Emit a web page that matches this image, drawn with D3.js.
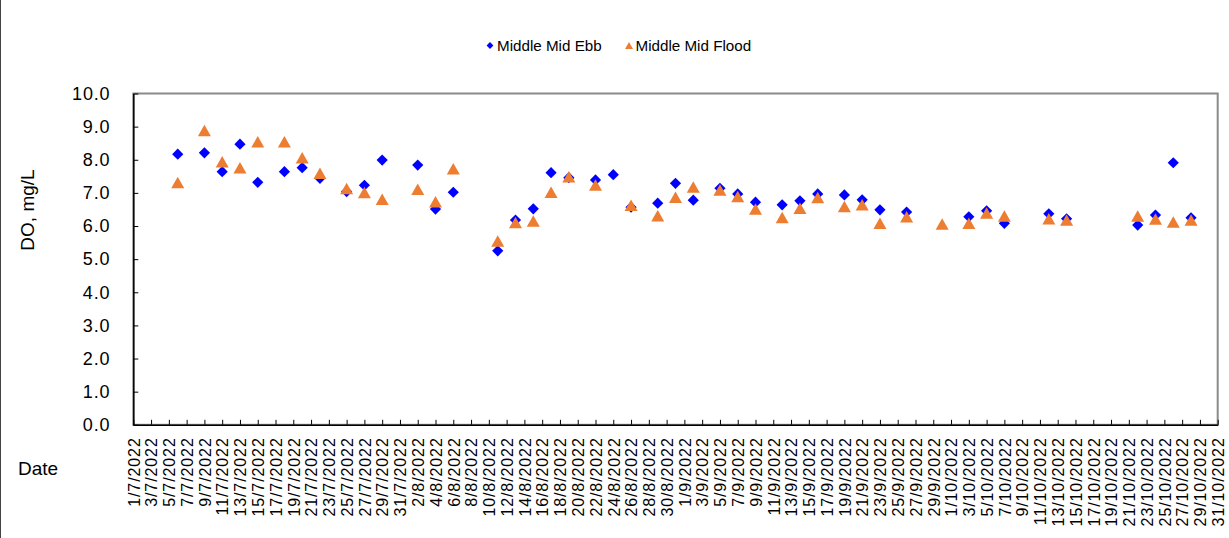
<!DOCTYPE html>
<html>
<head>
<meta charset="utf-8">
<script src="https://cdn.jsdelivr.net/npm/d3@7"></script>
<style>
  html, body { margin: 0; padding: 0; background: #fff; }
  svg { display: block; font-family: "Liberation Sans", Arial, Helvetica, sans-serif; }
</style>
</head>
<body>
<svg id="chart" width="1229" height="538"></svg>
<script>
// Sampling dates (d/m/yyyy)
const sampleDates = [
  "6/7/2022","9/7/2022","11/7/2022","13/7/2022","15/7/2022","18/7/2022","20/7/2022","22/7/2022",
  "25/7/2022","27/7/2022","29/7/2022","2/8/2022","4/8/2022","6/8/2022","11/8/2022","13/8/2022",
  "15/8/2022","17/8/2022","19/8/2022","22/8/2022","24/8/2022","26/8/2022","29/8/2022","31/8/2022",
  "2/9/2022","5/9/2022","7/9/2022","9/9/2022","12/9/2022","14/9/2022","16/9/2022","19/9/2022",
  "21/9/2022","23/9/2022","26/9/2022","30/9/2022","3/10/2022","5/10/2022","7/10/2022","12/10/2022",
  "14/10/2022","22/10/2022","24/10/2022","26/10/2022","28/10/2022"
];

// Dissolved oxygen, mg/L (null = no sample)
const middleMidEbb = [
  8.17, 8.21, 7.64, 8.47, 7.32, 7.64, 7.76, 7.44,
  7.04, 7.23, 7.99, 7.84, 6.51, 7.02, 5.25, 6.18,
  6.52, 7.61, 7.46, 7.39, 7.55, 6.57, 6.69, 7.29,
  6.78, 7.14, 6.97, 6.72, 6.64, 6.76, 6.97, 6.94,
  6.79, 6.49, 6.42, null, 6.28, 6.46, 6.08, 6.37,
  6.22, 6.03, 6.33, 7.91, 6.25
];
const middleMidFlood = [
  7.31, 8.88, 7.94, 7.76, 8.54, 8.54, 8.06, 7.59,
  7.13, 7.01, 6.81, 7.11, 6.73, 7.73, 5.55, 6.11,
  6.15, 7.02, 7.49, 7.24, null, 6.63, 6.31, 6.87,
  7.18, 7.09, 6.89, 6.51, 6.26, 6.54, 6.86, 6.59,
  6.64, 6.08, 6.28, 6.06, 6.08, 6.39, 6.30, 6.22,
  6.18, 6.30, 6.21, 6.12, 6.18
];

const seriesNames = ["Middle Mid Ebb", "Middle Mid Flood"];
const seriesColors = ["#0000FF", "#ED7D31"];

// Axis settings
const xDomain = ["1/7/2022", "31/10/2022"];
const xTickStepDays = 2;
const yDomain = [0, 10];
const yTicks = [0, 1, 2, 3, 4, 5, 6, 7, 8, 9, 10];
const yTitle = "DO, mg/L";
const xTitle = "Date";

const parse = d3.utcParse("%d/%m/%Y");
const fmt = d3.utcFormat("%-d/%-m/%Y");

const svg = d3.select("#chart");
const plot = { left: 133.3, right: 1217.7, top: 93.5, bottom: 424.8 };

// outer frame edge
svg.append("line")
  .attr("x1", 0.5).attr("x2", 0.5).attr("y1", 0).attr("y2", 538)
  .attr("stroke", "#444").attr("stroke-width", 1);

const x = d3.scaleUtc()
  .domain(xDomain.map(parse))
  .range([plot.left, plot.right]);
const y = d3.scaleLinear()
  .domain(yDomain)
  .range([plot.bottom, plot.top]);

// plot area frame
svg.append("rect")
  .attr("x", plot.left).attr("y", plot.top)
  .attr("width", plot.right - plot.left).attr("height", plot.bottom - plot.top)
  .attr("fill", "none").attr("stroke", "#8a8a8a").attr("stroke-width", 2);

// x axis
const allDays = d3.utcDay.range(x.domain()[0], d3.utcDay.offset(x.domain()[1], 1));
const xTickValues = allDays.filter((d, i) => i % xTickStepDays === 0);
const xAxis = svg.append("g")
  .attr("transform", `translate(0,${plot.bottom})`)
  .call(d3.axisBottom(x).tickValues(xTickValues).tickFormat(fmt).tickSize(-5).tickSizeOuter(0));
xAxis.select(".domain").attr("stroke", "#000").attr("stroke-width", 1.5);
xAxis.selectAll(".tick line").attr("stroke", "#000");
xAxis.selectAll(".tick text")
  .attr("transform", "rotate(-90)")
  .attr("text-anchor", "end")
  .attr("x", -12.5)
  .attr("y", 0)
  .attr("dy", "0.36em")
  .attr("font-size", 16)
  .attr("letter-spacing", 0.9)
  .attr("fill", "#000")
  .attr("font-family", "Liberation Sans, Arial, sans-serif");

// y axis
const yAxis = svg.append("g")
  .attr("transform", `translate(${plot.left},0)`)
  .call(d3.axisLeft(y).tickValues(yTicks).tickFormat(d3.format(".1f")).tickSize(-5).tickSizeOuter(0).tickPadding(23));
yAxis.select(".domain").attr("stroke", "#000").attr("stroke-width", 1.5);
yAxis.selectAll(".tick line").attr("stroke", "#000");
yAxis.selectAll(".tick text")
  .attr("font-size", 18)
  .attr("letter-spacing", 0.8)
  .attr("fill", "#000")
  .attr("font-family", "Liberation Sans, Arial, sans-serif");

// axis titles
svg.append("text")
  .attr("transform", `translate(34,210) rotate(-90)`)
  .attr("text-anchor", "middle")
  .attr("font-size", 19)
  .attr("fill", "#000")
  .text(yTitle);
svg.append("text")
  .attr("x", 18).attr("y", 475)
  .attr("font-size", 19)
  .attr("fill", "#000")
  .text(xTitle);

// marker shapes
function diamondPath(r) {
  return `M0,${-r}L${r},0L0,${r}L${-r},0Z`;
}
function trianglePath(w, h) {
  return `M0,${-h / 2}L${w / 2},${h / 2}L${-w / 2},${h / 2}Z`;
}

const rows = sampleDates.map((d, i) => ({ date: parse(d), ebb: middleMidEbb[i], flood: middleMidFlood[i] }));

svg.append("g").selectAll("path")
  .data(rows.filter(r => r.ebb != null))
  .join("path")
  .attr("d", diamondPath(5.6))
  .attr("transform", r => `translate(${x(r.date)},${y(r.ebb)})`)
  .attr("fill", seriesColors[0]);

svg.append("g").selectAll("path")
  .data(rows.filter(r => r.flood != null))
  .join("path")
  .attr("d", trianglePath(13, 11.5))
  .attr("transform", r => `translate(${x(r.date)},${y(r.flood)})`)
  .attr("fill", seriesColors[1]);

// legend
const legend = svg.append("g");
legend.append("path")
  .attr("d", diamondPath(3.4))
  .attr("transform", "translate(490,45.5)")
  .attr("fill", seriesColors[0]);
legend.append("text")
  .attr("x", 497).attr("y", 50.5)
  .attr("font-size", 15.2).attr("fill", "#000")
  .text(seriesNames[0]);
legend.append("path")
  .attr("d", trianglePath(8, 7))
  .attr("transform", "translate(629,45.5)")
  .attr("fill", seriesColors[1]);
legend.append("text")
  .attr("x", 635.5).attr("y", 50.5)
  .attr("font-size", 15.2).attr("fill", "#000")
  .text(seriesNames[1]);
</script>
</body>
</html>
